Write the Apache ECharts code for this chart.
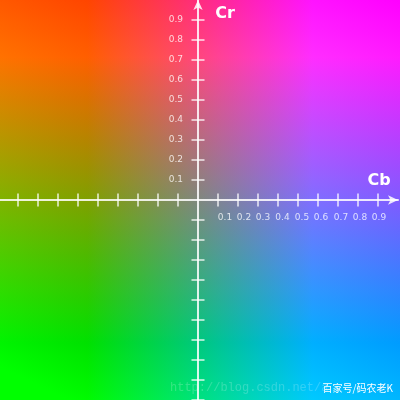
<!DOCTYPE html>
<html>
<head>
<meta charset="utf-8">
<script src="https://cdn.jsdelivr.net/npm/echarts@6/dist/echarts.min.js"></script>
<style>html,body{margin:0;padding:0;background:#fff}#c{width:400px;height:400px}</style>
</head>
<body>
<div id="c"></div>
<script>
// tick positions along each axis (axis spans -1 .. 1)
const cbTicks = [-0.9,-0.8,-0.7,-0.6,-0.5,-0.4,-0.3,-0.2,-0.1,0.1,0.2,0.3,0.4,0.5,0.6,0.7,0.8,0.9];
const crTicks = [-1.0,-0.9,-0.8,-0.7,-0.6,-0.5,-0.4,-0.3,-0.2,-0.1,0.1,0.2,0.3,0.4,0.5,0.6,0.7,0.8,0.9];
// labelled values
const cbLabelValues = [0.1,0.2,0.3,0.4,0.5,0.6,0.7,0.8,0.9];
const crLabelValues = [0.1,0.2,0.3,0.4,0.5,0.6,0.7,0.8,0.9];
const tickLabels = ['0.1','0.2','0.3','0.4','0.5','0.6','0.7','0.8','0.9'];
const axisNames = ['Cb','Cr'];
const watermark = ['http://blog.csdn.net/a', '百家号/码农老K'];

const lineCol = 'rgba(255,255,255,0.85)';
const labCol = 'rgba(255,255,255,0.78)';
const cbShift = [7,6,5,4.5,4,3,3,2,1];
const rich = {};
cbShift.forEach((s,i)=>{ rich['o'+(i+1)] = {padding:[0,0,0,2*s], color:labCol, fontSize:9, fontFamily:'DejaVu Sans'}; });

function labelOf(v){
  const i = Math.round(v*10);
  return tickLabels[i-1] || '';
}

const chart = echarts.init(document.getElementById('c'), null, {renderer:'canvas'});
const baseAxis = {
  type:'value', min:-1, max:1,
  splitLine:{show:false},
};
chart.setOption({
  animation:false,
  grid:{left:-2, right:2, top:0, bottom:0, containLabel:false, outerBoundsMode:'none'},
  graphic:[
    {type:'rect', z:-10, silent:true, shape:{x:0,y:0,width:400,height:400},
     style:{fill:{type:'linear',x:0,y:0,x2:0,y2:1,colorStops:[
       {offset:0,color:'rgb(255,0,0)'},
       {offset:0.143,color:'rgb(255,26,0)'},
       {offset:0.857,color:'rgb(0,156,0)'},
       {offset:1,color:'rgb(0,182,0)'}]}}},
    {type:'rect', z:-9, silent:true, shape:{x:0,y:0,width:400,height:400},
     style:{blend:'lighter', fill:{type:'linear',x:0,y:0,x2:1,y2:0,colorStops:[
       {offset:0,color:'rgb(0,88,0)'},
       {offset:0.218,color:'rgb(0,69,0)'},
       {offset:0.782,color:'rgb(0,19,255)'},
       {offset:1,color:'rgb(0,0,255)'}]}}},
    {type:'text', z:10, x:225, y:14, style:{text:axisNames[1], fill:'#fff', font:'bold 16px "DejaVu Sans"', align:'center', verticalAlign:'middle'}},
    {type:'text', z:10, x:379, y:181, style:{text:axisNames[0], fill:'#fff', font:'bold 16px "DejaVu Sans"', align:'center', verticalAlign:'middle'}},
    {type:'text', z:10, x:170, y:388, style:{text:watermark[0], fill:'rgba(255,255,255,0.2)', font:'12px "Liberation Mono"', align:'left', verticalAlign:'middle'}},
    {type:'text', z:11, x:393, y:388, style:{text:watermark[1], fill:'#fff', font:'10px "Noto Sans CJK SC"', align:'right', verticalAlign:'middle'}}
  ],
  xAxis:[
    Object.assign({}, baseAxis, {
      position:'bottom', offset:-200,
      axisLine:{show:true, onZero:false, symbol:['none','arrow'], symbolSize:[7,10], lineStyle:{color:lineCol, width:2}},
      axisTick:{show:true, inside:true, length:6.5, customValues:cbTicks, lineStyle:{color:lineCol, width:1.5}},
      axisLabel:{show:true, customValues:cbLabelValues, margin:13, color:labCol, fontSize:9, fontFamily:'DejaVu Sans',
        formatter:function(v){ const i=Math.round(v*10); return '{o'+i+'|'+labelOf(v)+'}'; }, rich:rich}
    }),
    Object.assign({}, baseAxis, {
      position:'top', offset:-200,
      axisLine:{show:false, onZero:false},
      axisTick:{show:true, inside:true, length:6.5, customValues:cbTicks, lineStyle:{color:lineCol, width:1.5}},
      axisLabel:{show:false}
    })
  ],
  yAxis:[
    Object.assign({}, baseAxis, {
      position:'left', offset:-200,
      axisLine:{show:true, onZero:false, symbol:['none','arrow'], symbolSize:[7,10], lineStyle:{color:lineCol, width:2}},
      axisTick:{show:true, inside:true, length:6.5, customValues:crTicks, lineStyle:{color:lineCol, width:1.5}},
      axisLabel:{show:true, customValues:crLabelValues, margin:15, color:labCol, fontSize:9, fontFamily:'DejaVu Sans',
        formatter:labelOf}
    }),
    Object.assign({}, baseAxis, {
      position:'right', offset:-200,
      axisLine:{show:false, onZero:false},
      axisTick:{show:true, inside:true, length:6.5, customValues:crTicks, lineStyle:{color:lineCol, width:1.5}},
      axisLabel:{show:false}
    })
  ],
  series:[]
});
</script>
</body>
</html>
